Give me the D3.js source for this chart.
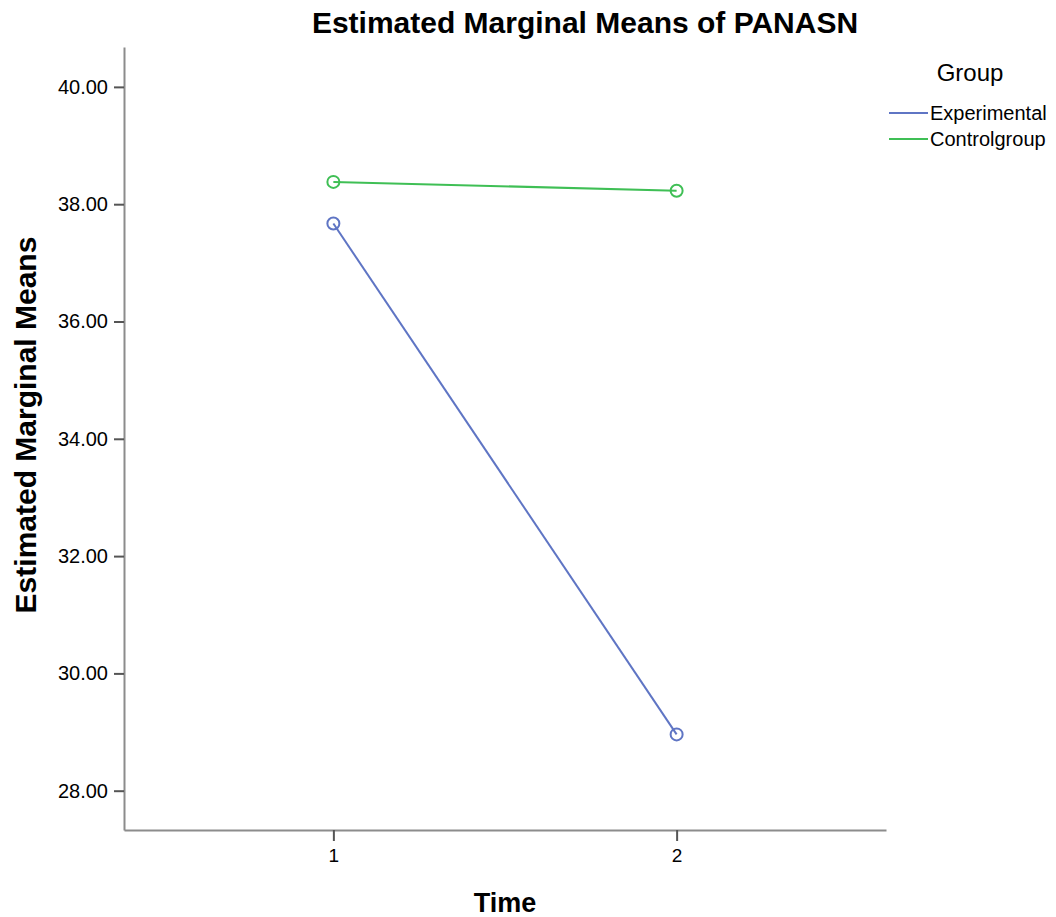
<!DOCTYPE html>
<html lang="en">
<head>
<meta charset="UTF-8">
<title>Estimated Marginal Means of PANASN</title>
<style>
  body { margin: 0; background: #fff; }
  text { font-family: Arial, "Liberation Sans", sans-serif; fill: #000; }
</style>
</head>
<body>
<svg id="chart" width="1056" height="917"></svg>
<script src="https://d3js.org/d3.v7.min.js"></script>
<script>

    // data
    var times = [1, 2];
    var groups = ["Experimental", "Controlgroup"];
    var experimental = [37.67, 28.96];
    var controlgroup = [38.38, 38.23];
    var yTicks = [28, 30, 32, 34, 36, 38, 40];

    var colors = { "Experimental": "#5f75c4", "Controlgroup": "#3fbf55" };

    var series = [
        { name: "Experimental", values: experimental },
        { name: "Controlgroup", values: controlgroup }
    ];

    var svg = d3.select("#chart");

    // plot box (axis lines)
    var plotLeft = 124, plotRight = 886, plotTop = 47, plotBottom = 830;

    var x = d3.scaleLinear()
        .domain([0.39, 2.61])
        .range([plotLeft, plotRight]);

    var y = d3.scaleLinear()
        .domain([27.33, 40.68])
        .range([plotBottom, plotTop]);

    // y axis
    var yAxis = svg.append("g")
        .attr("transform", "translate(" + plotLeft + ",0)")
        .call(d3.axisLeft(y).tickValues(yTicks).tickSize(10).tickPadding(6)
            .tickFormat(d3.format(".2f")).tickSizeOuter(0));
    yAxis.select(".domain").attr("stroke", "#8c8c8c").attr("stroke-width", 2);
    yAxis.selectAll(".tick line").attr("stroke", "#555").attr("stroke-width", 2);
    yAxis.selectAll(".tick text").style("font-size", "20px").attr("fill", "#000");

    // x axis
    var xAxis = svg.append("g")
        .attr("transform", "translate(0," + plotBottom + ")")
        .call(d3.axisBottom(x).tickValues(times).tickSize(11).tickPadding(8)
            .tickFormat(d3.format("d")).tickSizeOuter(0));
    xAxis.select(".domain").attr("stroke", "#8c8c8c").attr("stroke-width", 2);
    xAxis.selectAll(".tick line").attr("stroke", "#555").attr("stroke-width", 2);
    xAxis.selectAll(".tick text").style("font-size", "19px").attr("fill", "#000");

    // lines and markers
    var line = d3.line()
        .x(function (d, i) { return x(times[i]); })
        .y(function (d) { return y(d); });

    series.forEach(function (s) {
        svg.append("path")
            .datum(s.values)
            .attr("d", line)
            .attr("fill", "none")
            .attr("stroke", colors[s.name])
            .attr("stroke-width", 2);

        svg.selectAll(null)
            .data(s.values)
            .enter().append("circle")
            .attr("cx", function (d, i) { return x(times[i]); })
            .attr("cy", function (d) { return y(d); })
            .attr("r", 6)
            .attr("fill", "none")
            .attr("stroke", colors[s.name])
            .attr("stroke-width", 2);
    });

    // title
    svg.append("text")
        .attr("x", 585).attr("y", 33)
        .attr("text-anchor", "middle")
        .style("font-size", "30px").style("font-weight", "bold")
        .text("Estimated Marginal Means of PANASN");

    // axis titles
    svg.append("text")
        .attr("transform", "translate(36," + 425 + ") rotate(-90)")
        .attr("text-anchor", "middle")
        .style("font-size", "30px").style("font-weight", "bold")
        .text("Estimated Marginal Means");

    svg.append("text")
        .attr("x", 505).attr("y", 912)
        .attr("text-anchor", "middle")
        .style("font-size", "27px").style("font-weight", "bold")
        .text("Time");

    // legend
    svg.append("text")
        .attr("x", 970).attr("y", 81)
        .attr("text-anchor", "middle")
        .style("font-size", "24px")
        .text("Group");

    var legend = svg.selectAll(".legend")
        .data(groups)
        .enter().append("g")
        .attr("transform", function (d, i) { return "translate(889," + (113 + i * 26) + ")"; });

    legend.append("line")
        .attr("x1", 0).attr("x2", 39)
        .attr("stroke", function (d) { return colors[d]; })
        .attr("stroke-width", 2);

    legend.append("text")
        .attr("x", 41).attr("y", 7)
        .style("font-size", "20px")
        .text(function (d) { return d; });

</script>
</body>
</html>
